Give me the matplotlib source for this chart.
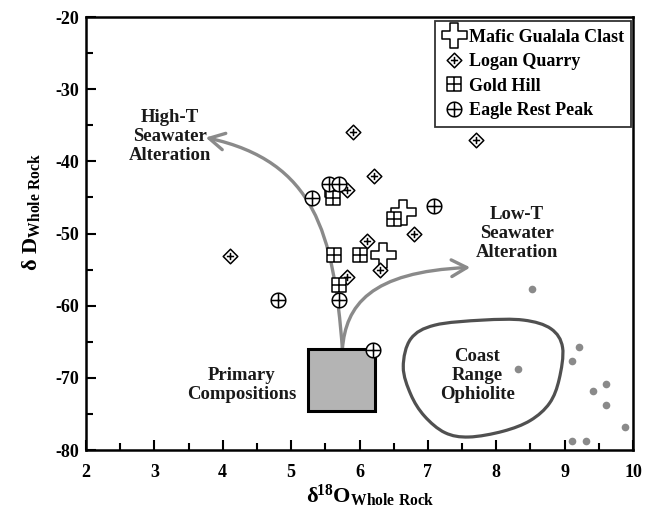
import numpy as np
import matplotlib
matplotlib.use('Agg')
import matplotlib.pyplot as plt
from matplotlib.path import Path
from matplotlib.patches import FancyArrowPatch, PathPatch, Rectangle, ArrowStyle
from matplotlib.lines import Line2D

plt.rcParams['font.family'] = ['Liberation Serif', 'DejaVu Serif']
plt.rcParams['font.weight'] = 'bold'
plt.rcParams['axes.unicode_minus'] = False
plt.rcParams['mathtext.fontset'] = 'custom'
plt.rcParams['mathtext.rm'] = 'Liberation Serif:bold'
plt.rcParams['mathtext.it'] = 'Liberation Serif:bold'
plt.rcParams['mathtext.bf'] = 'Liberation Serif:bold'

# data (d18O, dD)
mafic_x = [6.64, 6.35]
mafic_y = [-47.0, -53.0]
logan_x = [5.91, 7.71, 6.21, 5.82, 6.80, 6.11, 6.30, 5.82, 4.11]
logan_y = [-36.0, -37.0, -42.0, -44.0, -50.0, -51.0, -55.1, -56.0, -53.1]
gold_x = [5.60, 5.61, 6.51, 5.62, 6.01, 5.70]
gold_y = [-44.0, -45.1, -48.0, -53.0, -53.0, -57.1]
eagle_x = [5.31, 5.55, 5.70, 7.09, 4.81, 5.70, 6.20]
eagle_y = [-45.1, -43.1, -43.1, -46.2, -59.2, -59.2, -66.1]
coast_x = [8.52, 9.21, 9.11, 8.32, 9.41, 9.61, 9.61, 9.88, 9.11, 9.31]
coast_y = [-57.7, -65.7, -67.7, -68.8, -71.8, -70.8, -73.7, -76.8, -78.7, -78.7]

# outline of the Coast Range Ophiolite field
ophiolite_x = [6.64, 6.75, 7.10, 7.80, 8.40, 8.80, 8.97, 8.92, 8.78, 8.50, 8.10, 7.60, 7.25, 6.95, 6.75]
ophiolite_y = [-68.5, -64.6, -62.7, -62.0, -62.0, -63.2, -65.8, -70.2, -73.5, -75.9, -77.4, -78.2, -77.6, -75.3, -72.3]

# primary composition box
primary_x = (5.25, 6.23)
primary_y = (-74.6, -66.0)

# alteration trend curves (cubic bezier control points)
high_t = [(5.75, -66.0), (5.62, -50.0), (5.35, -40.0), (3.75, -36.7)]
low_t = [(5.75, -66.0), (5.80, -60.0), (6.15, -55.3), (7.62, -54.7)]


def mark(kind):
    # outline + inner cross, as a marker path
    if kind == 'square':
        outline = [(-1, -1), (1, -1), (1, 1), (-1, 1), (-1, -1)]
        cross = [(-1, 0), (1, 0), (0, -1), (0, 1)]
    elif kind == 'diamond':
        outline = [(0, -1), (1, 0), (0, 1), (-1, 0), (0, -1)]
        cross = [(-0.5, 0), (0.5, 0), (0, -0.5), (0, 0.5)]
    else:
        t = np.linspace(0, 2 * np.pi, 41)
        outline = list(zip(np.cos(t), np.sin(t)))
        cross = [(-1, 0), (1, 0), (0, -1), (0, 1)]
    verts = outline + cross
    codes = [Path.MOVETO] + [Path.LINETO] * (len(outline) - 2) + [Path.CLOSEPOLY]
    codes += [Path.MOVETO, Path.LINETO, Path.MOVETO, Path.LINETO]
    return Path(verts, codes)


a = 1 / 3.
plus_verts = [(-a, -1), (a, -1), (a, -a), (1, -a), (1, a), (a, a), (a, 1),
              (-a, 1), (-a, a), (-1, a), (-1, -a), (-a, -a), (-a, -1)]
plus_mark = Path(plus_verts, [Path.MOVETO] + [Path.LINETO] * 11 + [Path.CLOSEPOLY])

fig = plt.figure(figsize=(6.58, 5.15), dpi=100)
ax = fig.add_axes([86 / 658, 1 - 450 / 515, 547 / 658, 433 / 515])

ax.set_xlim(2, 10)
ax.set_ylim(-80, -20)

# ophiolite field as smooth closed curve (catmull-rom -> bezier)
P = np.column_stack([ophiolite_x, ophiolite_y])
n = len(P)
verts = [tuple(P[0])]
codes = [Path.MOVETO]
for i in range(n):
    p0, p1, p2, p3 = P[i - 1], P[i], P[(i + 1) % n], P[(i + 2) % n]
    verts += [tuple(p1 + (p2 - p0) / 6), tuple(p2 - (p3 - p1) / 6), tuple(p2)]
    codes += [Path.CURVE4] * 3
ax.add_patch(PathPatch(Path(verts, codes), facecolor='none', edgecolor='#505050', lw=2.3, zorder=2))

ax.add_patch(Rectangle((primary_x[0], primary_y[0]), primary_x[1] - primary_x[0],
                       primary_y[1] - primary_y[0], facecolor='#b4b4b4',
                       edgecolor='black', lw=2.2, zorder=3))

style = ArrowStyle('->', head_length=0.55, head_width=0.3)
for curve in (high_t, low_t):
    arr = FancyArrowPatch(path=Path(curve, [Path.MOVETO] + [Path.CURVE4] * 3),
                          arrowstyle=style, mutation_scale=20, color='#8a8a8a',
                          lw=2.4, zorder=2)
    ax.add_patch(arr)

ax.plot(coast_x, coast_y, 'o', color='#8a8a8a', ms=5.5, mec='none', zorder=3)

mk = dict(ls='none', mfc='white', mec='black', mew=1.1)
ax.plot(mafic_x, mafic_y, marker=plus_mark, ms=18, zorder=4, **mk)
ax.plot(logan_x, logan_y, marker=mark('diamond'), ms=10.5, zorder=5, **mk)
ax.plot(gold_x, gold_y, marker=mark('square'), ms=10.5, zorder=6, **mk)
ax.plot(eagle_x, eagle_y, marker=mark('circle'), ms=10.5, zorder=7, **mk)

txt = dict(ha='center', va='center', fontsize=13.5, fontweight='bold',
           color='#1a1a1a', linespacing=1.15, zorder=8)
ax.text(3.23, -36.6, 'High-T\nSeawater\nAlteration', **txt)
ax.text(8.30, -50.0, 'Low-T\nSeawater\nAlteration', **txt)
ax.text(4.28, -71.0, 'Primary\nCompositions', **txt)
ax.text(7.72, -69.7, 'Coast\nRange\nOphiolite', **txt)

handles = [
    Line2D([], [], marker=plus_mark, ms=18, **mk),
    Line2D([], [], marker=mark('diamond'), ms=10.5, **mk),
    Line2D([], [], marker=mark('square'), ms=10.5, **mk),
    Line2D([], [], marker=mark('circle'), ms=10.5, **mk),
]
labels = ['Mafic Gualala Clast', 'Logan Quarry', 'Gold Hill', 'Eagle Rest Peak']
leg = ax.legend(handles, labels, loc='upper right', bbox_to_anchor=(0.997, 0.99),
                borderaxespad=0, fancybox=False, frameon=True, edgecolor='black',
                handlelength=1.3, handletextpad=0.2, labelspacing=0.42,
                borderpad=0.4, prop={'size': 13, 'weight': 'bold'})
leg.get_frame().set_linewidth(1.3)
leg.set_zorder(10)

ax.set_xticks(np.arange(2, 11, 1))
ax.set_yticks(np.arange(-80, -19, 10))
ax.set_xticks(np.arange(2.5, 10, 1), minor=True)
ax.set_yticks(np.arange(-75, -20, 10), minor=True)
ax.tick_params(which='both', direction='in', top=False, right=False, width=1.5, labelsize=13)
ax.tick_params(which='major', length=7)
ax.tick_params(which='minor', length=5)
ax.tick_params(axis='x', pad=10)
ax.tick_params(axis='y', pad=5)
for lab in ax.get_xticklabels() + ax.get_yticklabels():
    lab.set_fontweight('bold')
for sp in ax.spines.values():
    sp.set_linewidth(1.8)

ax.set_xlabel(r'$\delta^{\!18}\mathrm{O}_{\mathrm{Whole\ Rock}}$', fontsize=16)
ax.set_ylabel(r'$\delta\ \mathrm{D}_{\mathrm{Whole\ Rock}}$', fontsize=16)
ax.xaxis.set_label_coords(0.52, -0.075)
ax.yaxis.set_label_coords(-0.08, 0.55)

fig.savefig('out.png', dpi=100)
